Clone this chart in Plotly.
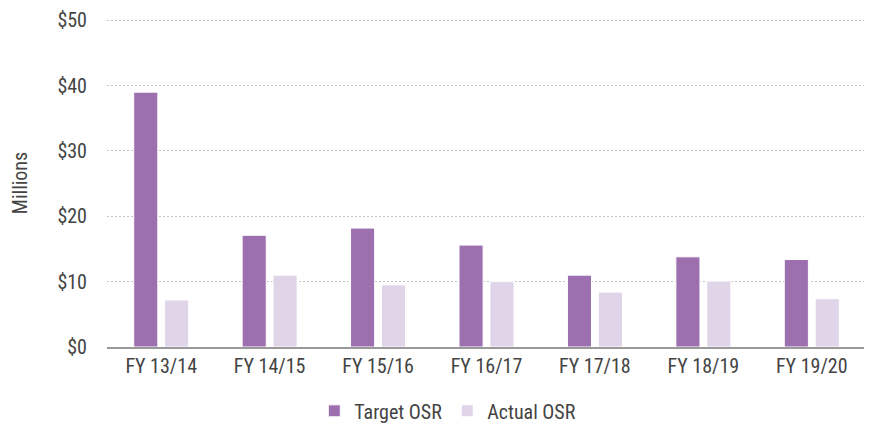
import plotly.graph_objects as go

categories = ["FY 13/14", "FY 14/15", "FY 15/16", "FY 16/17", "FY 17/18", "FY 18/19", "FY 19/20"]
target_osr = [39.0, 17.1, 18.2, 15.6, 11.0, 13.8, 13.4]
actual_osr = [7.2, 11.0, 9.5, 10.0, 8.4, 10.1, 7.4]
tick_vals = [0, 10, 20, 30, 40, 50]
tick_text = ["$0", "$10", "$20", "$30", "$40", "$50"]

FONT = "Liberation Sans Narrow, Roboto Condensed, Roboto"

fig = go.Figure()
fig.add_trace(go.Bar(x=categories, y=target_osr, name="Target OSR",
                     marker=dict(color="#9C6FAF", line=dict(color="#ffffff", width=1))))
fig.add_trace(go.Bar(x=categories, y=actual_osr, name="Actual OSR",
                     marker=dict(color="#E0D4E8", line=dict(color="#ffffff", width=1))))

# page body has an 8px margin, so the figure is sized/offset to compensate
fig.update_layout(
    width=864, height=417,
    margin=dict(l=99, r=6, t=11, b=78),
    paper_bgcolor="white", plot_bgcolor="white",
    font=dict(family=FONT, size=20, color="#444444"),
    barmode="group", bargap=0.43, bargroupgap=0.22,
    legend=dict(orientation="h", x=0.449, xanchor="center", xref="paper",
                y=0.034, yanchor="middle", yref="container",
                font=dict(size=20), traceorder="normal"),
    xaxis=dict(showgrid=False, showline=True, linecolor="#999999", linewidth=2,
               ticks="", automargin=False, ticklabelstandoff=0),
    yaxis=dict(range=[0, 50.2], tickvals=tick_vals, ticktext=tick_text,
               showgrid=True, gridcolor="#c4c4c4", griddash="2px,2px", gridwidth=1,
               zeroline=False, showline=False, ticks="", ticklen=0, automargin=False,
               ticklabelstandoff=19,
               title=dict(text="Millions", font=dict(size=20), standoff=25)),
)

fig.write_html("out.html")
